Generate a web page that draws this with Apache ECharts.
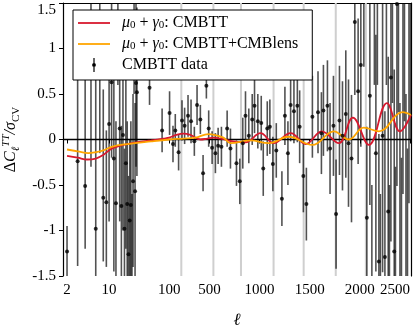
<!DOCTYPE html>
<html>
<head>
<meta charset="utf-8">
<script src="https://cdn.jsdelivr.net/npm/echarts@6/dist/echarts.min.js"></script>
<style>
html, body { margin: 0; padding: 0; background: #fff; }
#chart { width: 415px; height: 325px; }
</style>
</head>
<body>
<div id="chart"></div>
<script>
// data points: multipole, deviation and error bar extent (in sigma_CV)
const dataEll = [2, 3, 4, 5, 6, 7, 8, 9, 10, 11, 12, 13, 14, 15, 16, 17, 18, 19, 20, 21, 22, 23, 24, 25, 26, 27, 28, 29,
  47, 76, 103, 137, 160, 193, 227, 253, 287, 317, 350, 377, 410, 437, 470, 493, 527, 560, 587, 620, 677, 710,
  770, 803, 833, 860, 893, 927, 950, 983, 1017, 1037, 1077, 1103, 1133, 1167, 1223, 1253, 1283, 1310, 1343, 1377,
  1400, 1437, 1467, 1527, 1583, 1617, 1637, 1677, 1703, 1737, 1763, 1797, 1827, 1860, 1887, 1917, 1950, 1983,
  2010, 2040, 2070, 2100, 2120, 2145, 2160, 2175, 2190, 2205, 2227, 2250, 2265, 2283, 2295, 2310, 2325, 2343, 2355, 2370,
  2385, 2400, 2415, 2430, 2445, 2460, 2475, 2490, 2505]
const dataDev = [-1.23, -0.24, -0.51, 0.95, -0.98, 0.85, -0.64, -0.69, 0.17, 0.63, -0.21, -0.70, 1.7, 0.12, -0.73, 0.05, -0.98, -0.26, -0.71, -1.26, -0.89, -0.72, -1.7, -0.46, 1.6, -0.57, 0.62, 0.52,
  0.57, 0.10, 0.29, -0.05, 0.10, -0.14, 0.21, 0.15, 0.26, 0.20, -0.02, 0.38, 0.22, -0.37, 0.59, 0.12, -0.09, -0.15, -0.07, -0.08, 0.12, -0.10,
  -0.26, -0.46, -0.04, 0.26, 0.04, 0.22, 0.37, 0.20, 0.18, -0.32, 0.12, 0.14, -0.27, -0.12, -0.65, 0.26, -0.15, 0.38, 0.31, 0.37,
  0.14, -0.40, -0.71, 0.25, 0.30, 0.07, 0.32, 0.37, -0.10, 0.15, -0.82, 0.21, 0.04, 0.28, -0.04, -0.21, 1.29, 0.53,
  0.82, 1.8, -0.86, 0.48, -1.9, 1.9, -0.15, 2.0, -1.34, -2.1, 0.04, -1.29, 2.2, -0.79, -2.2, 0.68, 2.3, -1.23, -2.3, 1.49,
  2.4, -1.8, -2.4, 1.7, 2.5, -1.9, -2.5, 1.8, 2.5]
const errDown = [1.57, 1.15, 0.69, 1.25, 0.67, 1.0, 0.70, 0.71, 1.07, 0.83, 1.24, 0.85, 1.1, 1.02, 0.87, 1.05, 0.82, 0.94, 0.89, 0.84, 0.91, 0.88, 1.1, 0.94, 1.1, 0.93, 0.92, 0.92,
  0.19, 0.24, 0.24, 0.2, 0.18, 0.2, 0.22, 0.2, 0.23, 0.24, 0.16, 0.22, 0.16, 0.2, 0.14, 0.2, 0.18, 0.22, 0.2, 0.22, 0.2, 0.22,
  0.25, 0.25, 0.28, 0.27, 0.3, 0.28, 0.3, 0.3, 0.3, 0.3, 0.3, 0.3, 0.3, 0.3, 0.3, 0.32, 0.35, 0.4, 0.35, 0.4,
  0.4, 0.4, 0.4, 0.45, 0.45, 0.45, 0.5, 0.5, 0.5, 0.55, 0.6, 0.6, 0.6, 0.7, 0.7, 0.7, 0.8, 0.8,
  0.9, 1.0, 1.0, 1.2, 1.4, 1.3, 1.3, 1.4, 1.4, 1.5, 1.5, 1.6, 1.6, 1.7, 1.7, 1.8, 1.9, 2.0, 2.0, 2.0,
  2.1, 2.2, 2.2, 2.3, 2.3, 2.4, 2.4, 2.5, 2.5]
const errUp = [0.28, 1.19, 1.36, 1.25, 1.78, 1.05, 1.19, 0.79, 1.03, 0.87, 1.21, 0.9, 1.1, 0.98, 0.88, 1.05, 0.88, 0.96, 0.91, 0.86, 0.89, 0.92, 1.1, 0.96, 1.1, 0.97, 0.93, 0.93,
  0.19, 0.24, 0.24, 0.2, 0.18, 0.2, 0.22, 0.2, 0.23, 0.24, 0.16, 0.22, 0.16, 0.2, 0.14, 0.2, 0.18, 0.22, 0.2, 0.22, 0.2, 0.22,
  0.25, 0.25, 0.28, 0.27, 0.3, 0.28, 0.3, 0.3, 0.3, 0.3, 0.3, 0.3, 0.3, 0.3, 0.3, 0.32, 0.35, 0.4, 0.35, 0.4,
  0.4, 0.4, 0.4, 0.45, 0.45, 0.45, 0.5, 0.5, 0.5, 0.55, 0.6, 0.6, 0.6, 0.7, 0.7, 0.7, 0.8, 0.8,
  0.9, 1.0, 1.0, 1.2, 1.4, 1.3, 1.3, 1.4, 1.4, 1.5, 1.5, 1.6, 1.6, 1.7, 1.7, 1.8, 1.9, 2.0, 2.0, 2.0,
  2.1, 2.2, 2.2, 2.3, 2.3, 2.4, 2.4, 2.5, 2.5]
// bins whose error bar covers the whole panel (light grey)
const wideBinEll = [220, 540, 815, 1140, 1440, 1760, 2060]

// model curves
const redEll = [2, 3, 4.3, 6, 8, 11, 15, 20, 30, 50, 80, 100, 170, 240, 310, 410, 480, 540, 610, 740, 860, 1010, 1140, 1310, 1460, 1620, 1790, 1930, 2090, 2270, 2400, 2510]
const redVal = [-0.18, -0.20, -0.22, -0.21, -0.17, -0.10, -0.07, -0.05, -0.03, -0.01, 0.01, 0.02, 0.05, 0.065, 0.05, 0.0, 0.01, 0.02, 0.01, -0.02, -0.03, 0.07, -0.04, 0.07, -0.05, 0.09, -0.04, 0.24, -0.06, 0.40, 0.09, 0.27]
const orangeEll = [2, 3, 4.5, 6, 8, 11, 20, 50, 100, 240, 360, 490, 640, 710, 910, 1090, 1290, 1527, 1740, 1890, 2040, 2190, 2427, 2510]
const orangeVal = [-0.11, -0.13, -0.15, -0.14, -0.12, -0.08, -0.05, -0.02, 0.0, 0.01, 0.02, 0.06, 0.02, -0.04, -0.01, -0.04, 0.03, -0.06, 0.09, 0.0, 0.13, 0.09, 0.30, 0.27]

const tickEll = [2, 10, 100, 500, 1000, 1500, 2000, 2500]

// hybrid axis: log up to ell=100, linear above
const toAxis = l => l <= 100 ? Math.log10(l) : 2 + (l - 100) / 600
const tickPos = tickEll.map(toAxis)
const xMin = 0.234, xMax = 6.017

const serif = 'Liberation Serif'
const chart = echarts.init(document.getElementById('chart'))

const points = dataEll.map((l, i) => [toAxis(l), dataDev[i], errDown[i], errUp[i]])
const lineIcon = 'path://M0,6.1 H32 V7.9 H0 Z'

chart.setOption({
  animation: false,
  grid: { left: 63, right: 4, top: 3, bottom: 49, containLabel: false, outerBoundsMode: 'none' },
  legend: {
    z: 20,
    orient: 'vertical',
    left: 73,
    top: 10,
    padding: [5, 14, 7, 5],
    itemGap: 5,
    itemWidth: 32,
    itemHeight: 14,
    backgroundColor: '#fff',
    borderColor: '#000',
    borderWidth: 1,
    borderRadius: 0,
    data: [
      { name: 'CMBTT', icon: lineIcon, itemStyle: { color: '#d7192e' } },
      { name: 'CMBTT+CMBlens', icon: lineIcon, itemStyle: { color: '#ffa500' } },
      { name: 'CMBTT data', icon: 'path://M2.4,0 H3.6 V14 H2.4 Z M1.1,7 L1.6,5.6 L3,5 L4.4,5.6 L4.9,7 L4.4,8.4 L3,9 L1.6,8.4 Z', itemStyle: { color: '#000' } }
    ],
    formatter: name => name === 'CMBTT data' ? '{t|CMBTT data}'
      : '{i|μ}{s|0}{t| + }{i|γ}{s|0}{t|: ' + name + '}',
    textStyle: {
      padding: [0, 0, 0, 7],
      rich: {
        t: { fontFamily: serif, fontSize: 16, color: '#000', lineHeight: 15 },
        i: { fontFamily: serif, fontSize: 16, fontStyle: 'italic', color: '#000', lineHeight: 15 },
        s: { fontFamily: serif, fontSize: 11, color: '#000', lineHeight: 10, verticalAlign: 'bottom' }
      }
    }
  },
  xAxis: [{
    type: 'value',
    min: xMin,
    max: xMax,
    name: '{i|ℓ}',
    nameLocation: 'middle',
    nameGap: 36,
    nameTextStyle: { rich: { i: { fontFamily: serif, fontSize: 17, fontStyle: 'italic', color: '#000' } } },
    axisLine: { lineStyle: { color: '#000', width: 1.2 } },
    axisTick: { customValues: tickPos, length: 4, lineStyle: { color: '#000' } },
    axisLabel: {
      customValues: tickPos,
      formatter: v => {
        const i = tickPos.findIndex(t => Math.abs(t - v) < 1e-6)
        return i < 0 ? '' : String(tickEll[i])
      },
      alignMaxLabel: 'right',
      fontFamily: serif, fontSize: 15, color: '#000', margin: 7
    },
    splitLine: { show: false }
  }, {
    type: 'value', position: 'top', min: xMin, max: xMax,
    axisLine: { show: true, onZero: false, lineStyle: { color: '#000', width: 1.2 } },
    axisTick: { show: false }, axisLabel: { show: false }, splitLine: { show: false }
  }],
  yAxis: [{
    type: 'value',
    min: -1.5,
    max: 1.5,
    interval: 0.5,
    name: '{d|Δ}{i|C}{s|ℓ}{p|TT}{i|/σ}{c|CV}',
    nameLocation: 'middle',
    nameRotate: 90,
    nameGap: 38,
    nameTextStyle: {
      rich: {
        d: { fontFamily: serif, fontSize: 16, color: '#000', lineHeight: 21 },
        i: { fontFamily: serif, fontSize: 16, fontStyle: 'italic', color: '#000', lineHeight: 21 },
        s: { fontFamily: serif, fontSize: 11, fontStyle: 'italic', color: '#000', lineHeight: 10, verticalAlign: 'bottom' },
        p: { fontFamily: serif, fontSize: 11, fontStyle: 'italic', color: '#000', lineHeight: 10, verticalAlign: 'top' },
        c: { fontFamily: serif, fontSize: 11, color: '#000', lineHeight: 10, verticalAlign: 'bottom' }
      }
    },
    axisLine: { onZero: false, lineStyle: { color: '#000', width: 1.2 } },
    axisTick: { length: 4, lineStyle: { color: '#000' } },
    axisLabel: { fontFamily: serif, fontSize: 15, color: '#000', margin: 7, verticalAlignMaxLabel: 'top' },
    splitLine: { show: false }
  }, {
    type: 'value', position: 'right', min: -1.5, max: 1.5,
    axisLine: { show: true, onZero: false, lineStyle: { color: '#000', width: 1.2 } },
    axisTick: { show: false }, axisLabel: { show: false }, splitLine: { show: false }
  }],
  series: [
    {
      name: 'wide bins',
      type: 'custom',
      clip: true,
      silent: true,
      z: 1,
      data: wideBinEll.map(l => [toAxis(l)]),
      renderItem: (params, api) => {
        const a = api.coord([api.value(0), -1.5])
        const b = api.coord([api.value(0), 1.5])
        return { type: 'line', shape: { x1: a[0], y1: a[1], x2: b[0], y2: b[1] }, style: { stroke: '#cfcfcf', lineWidth: 2 } }
      }
    },
    {
      name: 'CMBTT data',
      type: 'custom',
      clip: true,
      z: 2,
      data: points,
      encode: { x: 0, y: 1 },
      renderItem: (params, api) => {
        const x = api.value(0), y = api.value(1)
        const a = api.coord([x, y - api.value(2)])
        const b = api.coord([x, y + api.value(3)])
        return { type: 'line', shape: { x1: a[0], y1: a[1], x2: b[0], y2: b[1] }, style: { stroke: 'rgba(0,0,0,0.68)', lineWidth: 1.6 } }
      },
      itemStyle: { color: '#000' }
    },
    {
      name: 'zero',
      type: 'line',
      z: 3,
      symbol: 'none',
      silent: true,
      data: [[xMin, 0], [xMax, 0]],
      lineStyle: { color: '#000', width: 1.6 }
    },
    {
      name: 'CMBTT',
      type: 'line',
      z: 4,
      smooth: 0.4,
      symbol: 'none',
      data: redEll.map((l, i) => [toAxis(l), redVal[i]]),
      lineStyle: { color: '#d7192e', width: 1.8 },
      itemStyle: { color: '#d7192e' }
    },
    {
      name: 'CMBTT+CMBlens',
      type: 'line',
      z: 5,
      smooth: 0.4,
      symbol: 'none',
      data: orangeEll.map((l, i) => [toAxis(l), orangeVal[i]]),
      lineStyle: { color: '#ffa500', width: 1.8 },
      itemStyle: { color: '#ffa500' }
    },
    {
      name: 'CMBTT data',
      type: 'scatter',
      z: 6,
      symbolSize: 4,
      data: points.map(p => [p[0], p[1]]),
      itemStyle: { color: '#000' }
    }
  ]
})
</script>
</body>
</html>
